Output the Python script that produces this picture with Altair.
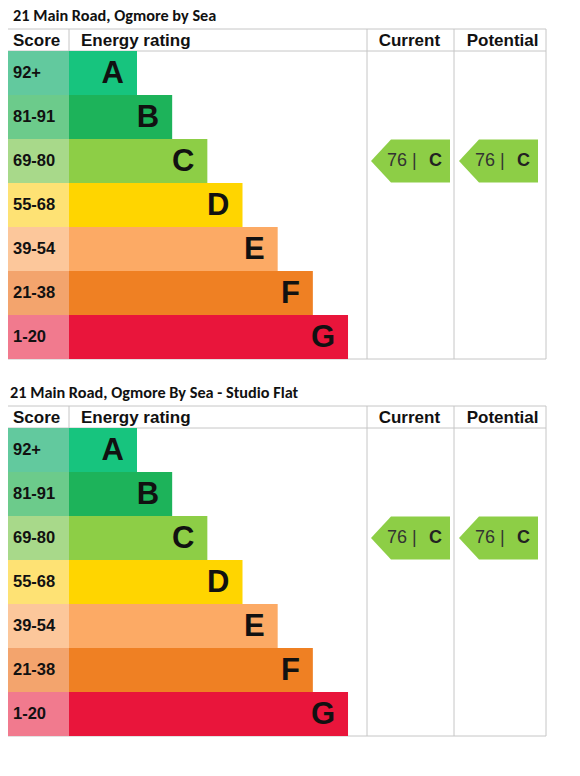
import altair as alt
import pandas as pd

# ---------------- data ----------------
titles = ["21 Main Road, Ogmore by Sea", "21 Main Road, Ogmore By Sea - Studio Flat"]
bands = ["A", "B", "C", "D", "E", "F", "G"]
score_ranges = ["92+", "81-91", "69-80", "55-68", "39-54", "21-38", "1-20"]
header_labels = ["Score", "Energy rating", "Current", "Potential"]
current_scores = [76, 76]
current_bands = ["C", "C"]
potential_scores = [76, 76]
potential_bands = ["C", "C"]

# ---------------- styles ----------------
bar_colors = ["#17c47e", "#1db35a", "#8dce46", "#ffd500", "#fcaa65", "#ef8023", "#e9153b"]
cell_colors = ["#62c99e", "#6ccb8b", "#a8d98a", "#fee274", "#fcc79b", "#f3a46d", "#f17a8e"]
GRID = "#c6c6c6"
FONT = "Liberation Sans"

W = 542
SCORE_W = 64
BAR_BASE = 68
BAR_STEP = 35.17
HDR_H = 22
ROW_H = 44
COLS = [(362, 449), (449, 541)]
ARROW_W, ARROW_H, ARROW_NOTCH = 79, 43, 20
hy = ARROW_H / ARROW_W
nx = -1 + 2 * ARROW_NOTCH / ARROW_W
ARROW_PATH = f"M-1,0L{nx:.3f},{-hy:.3f}L1,{-hy:.3f}L1,{hy:.3f}L{nx:.3f},{hy:.3f}Z"


def panel(title, title_x, top, cur, pot):
    H = top + HDR_H + 7 * ROW_H + 2
    xs = alt.Scale(domain=[0, W], nice=False, zero=False)
    ys = alt.Scale(domain=[0, H], nice=False, zero=False, reverse=True)
    bottom = top + HDR_H + 7 * ROW_H

    rows = pd.DataFrame({
        "band": bands, "score": score_ranges, "bar": bar_colors,
        "cell": cell_colors, "idx": list(range(len(bands))),
    })
    base = alt.Chart(rows).transform_calculate(
        y0=f"{top + HDR_H} + {ROW_H} * datum.idx",
        y1=f"{top + HDR_H} + {ROW_H} * (datum.idx + 1)",
        ym=f"{top + HDR_H} + {ROW_H} * (datum.idx + 0.5)",
        x0="0", x1=f"{SCORE_W}",
        xe=f"{SCORE_W} + {BAR_BASE} + {BAR_STEP} * datum.idx",
        xl=f"{SCORE_W} + {BAR_BASE} + {BAR_STEP} * datum.idx - 13",
        xs_="8",
        yl="datum.ym + 1",
    )
    X = lambda f: alt.X(f, type="quantitative", scale=xs, axis=None)
    Y = lambda f: alt.Y(f, type="quantitative", scale=ys, axis=None)

    cells = base.mark_rect().encode(
        x=X("x0"), x2="x1", y=Y("y0"), y2="y1",
        fill=alt.Fill("cell:N", scale=None))
    bars = base.mark_rect().encode(
        x=X("x1"), x2="xe", y=Y("y0"), y2="y1",
        fill=alt.Fill("bar:N", scale=None))
    score_txt = base.mark_text(
        align="left", baseline="middle", font=FONT, fontWeight="bold",
        fontSize=16.5, color="#111").encode(x=X("xs_"), y=Y("ym"), text="score:N")
    letters = base.mark_text(
        align="right", baseline="middle", font=FONT, fontWeight="bold",
        fontSize=31, color="#111").encode(x=X("xl"), y=Y("yl"), text="band:N")

    lines = pd.DataFrame({
        "x": [0, 0, 0, 0, SCORE_W, COLS[0][0], COLS[1][0], COLS[1][1]],
        "x2": [W - 1, W - 1, W - 1, 0, SCORE_W, COLS[0][0], COLS[1][0], COLS[1][1]],
        "y": [top, top + HDR_H, bottom, top, top, top, top, top],
        "y2": [top, top + HDR_H, bottom, bottom, top + HDR_H, bottom, bottom, bottom],
    })
    grid = alt.Chart(lines).mark_rule(color=GRID, strokeWidth=1).encode(
        x=X("x"), x2="x2", y=Y("y"), y2="y2")

    hdr = pd.DataFrame({"t": header_labels, "x": [8, 76, 373.7, 461.7],
                        "y": [top + HDR_H / 2 + 1] * 4})
    headers = alt.Chart(hdr).mark_text(
        align="left", baseline="middle", font=FONT, fontWeight="bold",
        fontSize=17, color="#111").encode(x=X("x"), y=Y("y"), text="t:N")

    ttl = pd.DataFrame({"t": [title], "x": [title_x], "y": [top - 8]})
    title_m = alt.Chart(ttl).mark_text(
        align="left", baseline="alphabetic", font="Carlito, Lato", fontWeight="bold",
        fontSize=16.3, color="#111").encode(x=X("x"), y=Y("y"), text="t:N")

    rat = pd.DataFrame({
        "score": [cur[0], pot[0]], "band": [cur[1], pot[1]],
        "cx": [405.5, 493.5],
        "idx": [bands.index(cur[1]), bands.index(pot[1])],
        "col": [bar_colors[bands.index(cur[1])], bar_colors[bands.index(pot[1])]],
    })
    rbase = alt.Chart(rat).transform_calculate(
        ym=f"{top + HDR_H} + {ROW_H} * (datum.idx + 0.5)",
        xn="datum.cx - 23.5", xb="datum.cx + 25",
        lab="datum.score + ' |'",
    )
    arrows = rbase.mark_point(
        shape=ARROW_PATH, size=ARROW_W ** 2, filled=True, opacity=1,
        strokeWidth=0).encode(x=X("cx"), y=Y("ym"), fill=alt.Fill("col:N", scale=None))
    num = rbase.mark_text(
        align="left", baseline="middle", font=FONT, fontSize=18,
        color="#333").encode(x=X("xn"), y=Y("ym"), text="lab:N")
    blet = rbase.mark_text(
        align="center", baseline="middle", font=FONT, fontSize=18, fontWeight="bold",
        color="#222").encode(x=X("xb"), y=Y("ym"), text="band:N")

    return alt.layer(grid, cells, bars, score_txt, letters, headers, title_m,
                     arrows, num, blet).properties(width=W, height=H)


p1 = panel(titles[0], 8, 21, (current_scores[0], current_bands[0]),
           (potential_scores[0], potential_bands[0]))
p2 = panel(titles[1], 5, 26, (current_scores[1], current_bands[1]),
           (potential_scores[1], potential_bands[1]))

chart = alt.vconcat(p1, p2, spacing=19).properties(
    padding={"left": -4, "top": 0, "right": 0, "bottom": 0}
).configure_view(stroke=None)
chart.save("out.html", embed_options={"renderer": "svg", "actions": False})
